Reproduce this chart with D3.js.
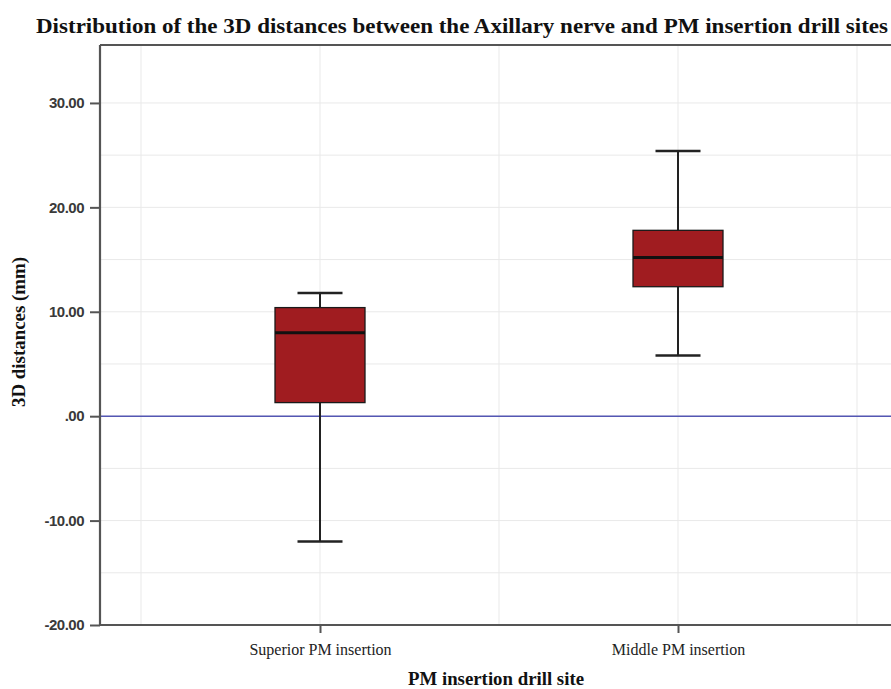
<!DOCTYPE html>
<html>
<head>
<meta charset="utf-8">
<script src="https://cdn.jsdelivr.net/npm/d3@7"></script>
<style>
  html, body { margin: 0; padding: 0; background: #fff; }
  svg { display: block; }
</style>
</head>
<body>
<svg id="chart" width="891" height="689"></svg>
<script>
const categories = ["Superior PM insertion", "Middle PM insertion"];
const whiskerLow  = [-12.0, 5.8];
const q1          = [1.3, 12.4];
const median      = [8.0, 15.2];
const q3          = [10.4, 17.8];
const whiskerHigh = [11.8, 25.4];
const yTicks = [-20, -10, 0, 10, 20, 30];
const yGrid = [-20, -15, -10, -5, 0, 5, 10, 15, 20, 25, 30];
const xGrid = [-0.5, 0, 0.5, 1, 1.5];

(function () {
const svg = d3.select("#chart");
const mLeft = 100, mTop = 45, mBottom = 625, mRight = 900;

const y = d3.scaleLinear().domain([-20, 35.55]).range([mBottom, mTop]);
const x = d3.scaleLinear().domain([0, 1]).range([320, 678]);

// gridlines
svg.append("g").selectAll("line").data(yGrid).enter().append("line")
  .attr("x1", mLeft).attr("x2", mRight)
  .attr("y1", d => y(d)).attr("y2", d => y(d))
  .attr("stroke", "#e9e9e9").attr("stroke-width", 1);
svg.append("g").selectAll("line").data(xGrid).enter().append("line")
  .attr("x1", d => x(d)).attr("x2", d => x(d))
  .attr("y1", mTop).attr("y2", mBottom)
  .attr("stroke", "#e9e9e9").attr("stroke-width", 1);

// zero reference line
svg.append("line")
  .attr("x1", mLeft).attr("x2", mRight)
  .attr("y1", y(0)).attr("y2", y(0))
  .attr("stroke", "#5457b3").attr("stroke-width", 1.6);

// boxes
const boxW = 90, capW = 45;
const g = svg.append("g");
categories.forEach((c, i) => {
  const cx = x(i);
  g.append("line").attr("x1", cx).attr("x2", cx)
    .attr("y1", y(whiskerHigh[i])).attr("y2", y(q3[i]))
    .attr("stroke", "#222").attr("stroke-width", 2);
  g.append("line").attr("x1", cx).attr("x2", cx)
    .attr("y1", y(q1[i])).attr("y2", y(whiskerLow[i]))
    .attr("stroke", "#222").attr("stroke-width", 2);
  g.append("line").attr("x1", cx - capW / 2).attr("x2", cx + capW / 2)
    .attr("y1", y(whiskerHigh[i])).attr("y2", y(whiskerHigh[i]))
    .attr("stroke", "#222").attr("stroke-width", 2.5);
  g.append("line").attr("x1", cx - capW / 2).attr("x2", cx + capW / 2)
    .attr("y1", y(whiskerLow[i])).attr("y2", y(whiskerLow[i]))
    .attr("stroke", "#222").attr("stroke-width", 2.5);
  g.append("rect")
    .attr("x", cx - boxW / 2).attr("width", boxW)
    .attr("y", y(q3[i])).attr("height", y(q1[i]) - y(q3[i]))
    .attr("fill", "#a01c20").attr("stroke", "#1a1a1a").attr("stroke-width", 1.3);
  g.append("line").attr("x1", cx - boxW / 2).attr("x2", cx + boxW / 2)
    .attr("y1", y(median[i])).attr("y2", y(median[i]))
    .attr("stroke", "#111").attr("stroke-width", 3);
});

// frame: top border
svg.append("line").attr("x1", mLeft).attr("x2", mRight)
  .attr("y1", mTop).attr("y2", mTop)
  .attr("stroke", "#555").attr("stroke-width", 2);

// y axis
const yAxis = d3.axisLeft(y).tickValues(yTicks).tickSize(10).tickSizeOuter(0)
  .tickFormat(d => d === 0 ? ".00" : d.toFixed(2));
const ya = svg.append("g").attr("transform", `translate(${mLeft},0)`).call(yAxis);
ya.select(".domain").attr("stroke", "#555").attr("stroke-width", 2.2)
  .attr("d", `M0,${mTop}V${mBottom}`);
ya.selectAll(".tick line").attr("stroke", "#555").attr("stroke-width", 2);
ya.selectAll(".tick text").attr("font-family", "Liberation Sans, Arial, sans-serif")
  .attr("font-size", 15).attr("font-weight", 600).attr("fill", "#3a3a3a")
  .attr("x", -16).attr("letter-spacing", -0.5);

// x axis
const xAxis = d3.axisBottom(x).tickValues([0, 1]).tickSize(8).tickSizeOuter(0)
  .tickFormat(i => categories[i]);
const xa = svg.append("g").attr("transform", `translate(0,${mBottom})`).call(xAxis);
xa.select(".domain").attr("stroke", "#555").attr("stroke-width", 2.2)
  .attr("d", `M${mLeft},0H${mRight}`);
xa.selectAll(".tick line").attr("stroke", "#555").attr("stroke-width", 2);
xa.selectAll(".tick text").attr("font-family", "Liberation Serif, Times New Roman, serif")
  .attr("font-size", 16).attr("fill", "#222").attr("y", 19);

// titles
svg.append("text").attr("x", 462).attr("y", 33).attr("text-anchor", "middle")
  .attr("font-family", "Liberation Serif, Times New Roman, serif").attr("font-weight", "bold")
  .attr("font-size", 21).attr("fill", "#111")
  .attr("textLength", 852).attr("lengthAdjust", "spacingAndGlyphs")
  .text("Distribution of the 3D distances between the Axillary nerve and PM insertion drill sites");

svg.append("text").attr("transform", "translate(25,332) rotate(-90)").attr("text-anchor", "middle")
  .attr("font-family", "Liberation Serif, Times New Roman, serif").attr("font-weight", "bold")
  .attr("font-size", 18).attr("fill", "#111")
  .attr("textLength", 150).attr("lengthAdjust", "spacingAndGlyphs")
  .text("3D distances (mm)");

svg.append("text").attr("x", 496).attr("y", 685).attr("text-anchor", "middle")
  .attr("font-family", "Liberation Serif, Times New Roman, serif").attr("font-weight", "bold")
  .attr("font-size", 18).attr("fill", "#111")
  .attr("textLength", 176).attr("lengthAdjust", "spacingAndGlyphs")
  .text("PM insertion drill site");
})();
</script>
</body>
</html>
